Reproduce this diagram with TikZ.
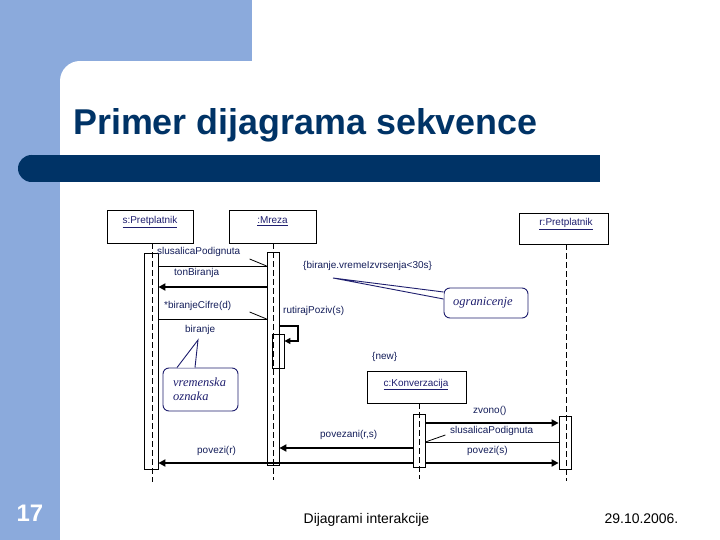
\documentclass[tikz,border=0pt]{standalone}
\usepackage{fontspec}
\setmainfont{Liberation Serif}
\setsansfont{Liberation Sans}
\usetikzlibrary{arrows.meta}
\definecolor{lblue}{RGB}{139,170,220}
\definecolor{dnavy}{RGB}{0,51,102}
\definecolor{tnavy}{RGB}{20,30,90}
\definecolor{nnavy}{RGB}{30,30,110}
\begin{document}
\begin{tikzpicture}[x=1bp,y=-1bp,
  objbox/.style={draw=black, line width=0.8bp, inner sep=0pt},
  objtext/.style={font=\sffamily\fontsize{10}{12}\selectfont, text=nnavy, inner sep=0pt, anchor=base},
  acti/.style={draw=black, line width=0.8bp, inner sep=0pt},
  lifeline/.style={line width=0.8bp, dash pattern=on 6bp off 3bp},
  thinmsg/.style={line width=0.8bp},
  callmsg/.style={line width=2.6bp, -{Triangle[length=7bp,width=7bp]}},
  lbl/.style={font=\sffamily\fontsize{10}{12}\selectfont, text=tnavy, inner sep=0pt, anchor=base west},
  notebox/.style={draw=nnavy, line width=0.9bp, rounded corners=6bp, fill=white, inner sep=0pt},
  notetext/.style={font=\itshape\fontsize{12.5}{14}\selectfont, text=nnavy, inner sep=0pt, anchor=base west}]
\useasboundingbox (0,0) rectangle (720,540);
% background
\fill[white] (0,0) rectangle (720,540);
\fill[lblue] (0,0) rectangle (252,61);
\fill[lblue] (0,0) rectangle (60,540);
\fill[lblue] (60,61) rectangle (80,81);
\fill[white] (80,81) circle (20);
\fill[dnavy] (31.5,155) rectangle (600,182);
\fill[dnavy] (31.5,168.5) circle (13.5);
\node[anchor=base west, inner sep=0pt, font=\sffamily\bfseries\fontsize{36}{40}\selectfont, text=dnavy] (title) at (73,135) {Primer dijagrama sekvence};
% footer
\node[anchor=base, inner sep=0pt, font=\sffamily\bfseries\fontsize{24}{28}\selectfont, text=white] (pnum) at (30,521) {17};
\node[anchor=base, inner sep=0pt, font=\sffamily\fontsize{14}{16}\selectfont, text=black] (foot) at (366.5,523) {Dijagrami interakcije};
\node[anchor=base, inner sep=0pt, font=\sffamily\fontsize{14}{16}\selectfont, text=black] (date) at (641.5,523) {29.10.2006.};
% object boxes
\node[objbox, minimum width=86bp, minimum height=33bp] (sbox) at (150,226.5) {};
\node[objbox, minimum width=87bp, minimum height=33bp] (mbox) at (272.5,226.5) {};
\node[objbox, minimum width=89bp, minimum height=31bp] (rbox) at (563.5,228.5) {};
\node[objbox, minimum width=99bp, minimum height=32bp] (cbox) at (416.5,387) {};
\node[objtext] (stxt) at (150,224) {\underline{s:Pretplatnik}};
\node[objtext] (mtxt) at (272.5,224) {\underline{:Mreza}};
\node[objtext] (rtxt) at (566,226) {\underline{r:Pretplatnik}};
\node[objtext] (ctxt) at (416,386) {\underline{c:Konverzacija}};
% lifeline ends
\coordinate (send) at (152,482);
\coordinate (mend) at (273,480);
\coordinate (rend) at (566,481);
\coordinate (cend) at (419,479);
\draw[lifeline] (send |- sbox.south) -- (send);
\draw[lifeline] (mend |- mbox.south) -- (mend);
\draw[lifeline] (rend |- rbox.south) -- (rend);
\draw[lifeline] (cend |- cbox.south) -- (cend);
% activation bars
\node[acti, minimum width=14bp, minimum height=216bp] (sa) at (151,361) {};
\node[acti, minimum width=12bp, minimum height=213bp] (ma) at (273,358.5) {};
\node[acti, minimum width=12bp, minimum height=34bp] (mn) at (278,351) {};
\node[acti, minimum width=12bp, minimum height=53bp] (ca) at (419,440.5) {};
\node[acti, minimum width=12bp, minimum height=53bp] (ra) at (565,442.5) {};
% message levels
\coordinate (y1) at (0,266);
\coordinate (y2) at (0,287);
\coordinate (y3) at (0,319);
\coordinate (y4a) at (0,326);
\coordinate (y4b) at (0,341);
\coordinate (lp) at (298,0);
\coordinate (y6) at (0,423);
\coordinate (y7) at (0,442);
\coordinate (y8) at (0,448);
\coordinate (y9) at (0,463);
% messages
\draw[thinmsg] (sa.east |- y1) -- (ma.west |- y1);
\draw[thinmsg] (ma.west |- y1) -- ++(-17,-7);
\draw[callmsg] (ma.west |- y2) -- (sa.east |- y2);
\draw[thinmsg] (sa.east |- y3) -- (ma.west |- y3);
\draw[thinmsg] (ma.west |- y3) -- ++(-17,-7);
\draw[line width=1.4bp, -{Triangle[length=6bp,width=6bp]}] (ma.east |- y4a) -| (lp |- y4b) -- (mn.east |- y4b);
\draw[callmsg] (ca.east |- y6) -- (ra.west |- y6);
\draw[thinmsg] (ra.west |- y7) -- (ca.east |- y7);
\draw[thinmsg] (ca.east |- y7) -- ++(20,-7);
\draw[callmsg] (ca.west |- y8) -- (ma.east |- y8);
\draw[callmsg] (ca.west |- y9) -- (sa.east |- y9);
\draw[callmsg] (ca.east |- y9) -- (ra.west |- y9);
% labels
\node[lbl] (l1) at (157,255) {slusalicaPodignuta};
\node[lbl] (l2) at (174,276) {tonBiranja};
\node[lbl] (l3) at (164,308) {*biranjeCifre(d)};
\node[lbl] (l4) at (185,332) {biranje};
\node[lbl] (l5) at (283,313) {rutirajPoziv(s)};
\node[lbl] (con) at (303,269) {\{biranje.vremeIzvrsenja<30s\}};
\node[lbl] (lnew) at (372,359) {\{new\}};
\node[lbl] (l6) at (473,413) {zvono()};
\node[lbl] (l7) at (450,433) {slusalicaPodignuta};
\node[lbl] (l8) at (320,437) {povezani(r,s)};
\node[lbl] (l9) at (197,453) {povezi(r)};
\node[lbl] (l10) at (467,453) {povezi(s)};
% notes
\node[notebox, minimum width=84bp, minimum height=30bp] (ogr) at (486,303) {};
\coordinate (ogrtip) at (333,278);
\coordinate (ogra) at (0,292);
\coordinate (ogrb) at (0,299);
\fill[white] (ogr.west |- ogra) -- (ogrtip) -- (ogr.west |- ogrb) -- cycle;
\draw[nnavy, line width=0.9bp] (ogr.west |- ogra) -- (ogrtip) -- (ogr.west |- ogrb);
\node[notetext] (ogrt) at (453,305) {ogranicenje};
\node[notebox, minimum width=75bp, minimum height=43bp] (vre) at (200.5,389.5) {};
\coordinate (vretip) at (198,340);
\coordinate (vrea) at (177,0);
\coordinate (vreb) at (195,0);
\fill[white] (vrea |- vre.north) -- (vretip) -- (vreb |- vre.north) -- cycle;
\draw[nnavy, line width=0.9bp] (vrea |- vre.north) -- (vretip) -- (vreb |- vre.north);
\node[notetext] (vret1) at (173,386) {vremenska};
\node[notetext] (vret2) at (173,400) {oznaka};
\end{tikzpicture}
\end{document}
